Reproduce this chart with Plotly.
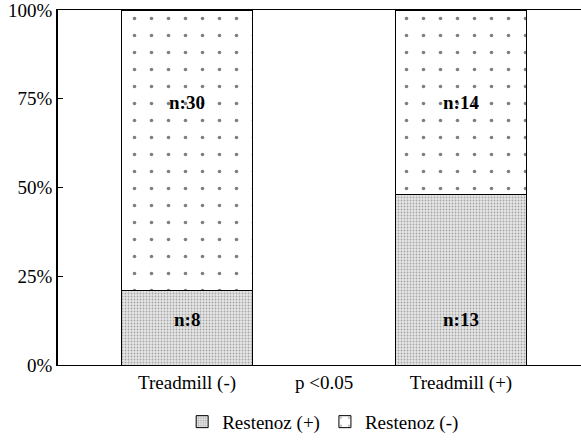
import plotly.graph_objects as go

categories = ["Treadmill (-)", "p <0.05", "Treadmill (+)"]
bar_positions = [0, 2]
restenoz_pos_n = [8, 13]
restenoz_neg_n = [30, 14]
ytick_vals = [0, 25, 50, 75, 100]
ytick_text = ["0%", "25%", "50%", "75%", "100%"]

totals = [a + b for a, b in zip(restenoz_pos_n, restenoz_neg_n)]
pos_pct = [100 * a / t for a, t in zip(restenoz_pos_n, totals)]
neg_pct = [100 * b / t for b, t in zip(restenoz_neg_n, totals)]

FONT = "Liberation Serif, Times New Roman, serif"

fig = go.Figure()
fig.add_trace(go.Bar(
    x=bar_positions, y=pos_pct, width=0.963, name="Restenoz (+)",
    marker=dict(color="#d4d4d4", line=dict(color="black", width=1),
                pattern=dict(shape=".", size=3, solidity=0.3,
                             fgcolor="#666666", bgcolor="#e6e6e6")),
))
fig.add_trace(go.Bar(
    x=bar_positions, y=neg_pct, width=0.963, name="Restenoz (-)",
    marker=dict(color="white", line=dict(color="black", width=1),
                pattern=dict(shape=".", size=17, solidity=0.035,
                             fgcolor="black", bgcolor="white")),
))

for xp, n in zip(bar_positions, restenoz_neg_n):
    fig.add_annotation(x=xp, y=74, text=f"<b>n:{n}</b>", showarrow=False,
                       font=dict(family=FONT, size=19, color="black"))
for xp, n in zip(bar_positions, restenoz_pos_n):
    fig.add_annotation(x=xp, y=12.8, text=f"<b>n:{n}</b>", showarrow=False,
                       font=dict(family=FONT, size=19, color="black"))

fig.update_layout(
    barmode="stack",
    width=581, height=440,
    margin=dict(l=58, r=0, t=10, b=75, autoexpand=False),
    paper_bgcolor="white", plot_bgcolor="white",
    font=dict(family=FONT, size=19, color="black"),
    showlegend=True,
    legend=dict(orientation="h", x=0.507, xanchor="center", y=-0.16,
                yanchor="middle", font=dict(family=FONT, size=19),
                traceorder="normal"),
    xaxis=dict(range=[-0.942, 2.876], tickmode="array",
               tickvals=[0, 1, 2], ticktext=categories,
               showline=True, linecolor="black", linewidth=1.2, mirror=True,
               ticks="", showgrid=False, zeroline=False, automargin=False,
               tickfont=dict(family=FONT, size=19)),
    yaxis=dict(range=[0, 100], tickmode="array", tickvals=ytick_vals,
               ticktext=ytick_text, showline=True, linecolor="black",
               linewidth=1.5, ticks="inside", ticklen=5, tickcolor="black",
               showgrid=False, zeroline=False, automargin=False,
               ticklabeloverflow="allow",
               tickfont=dict(family=FONT, size=19)),
)

fig.write_html("out.html", config={"displayModeBar": False},
               post_script="document.body.style.margin='0px';")
